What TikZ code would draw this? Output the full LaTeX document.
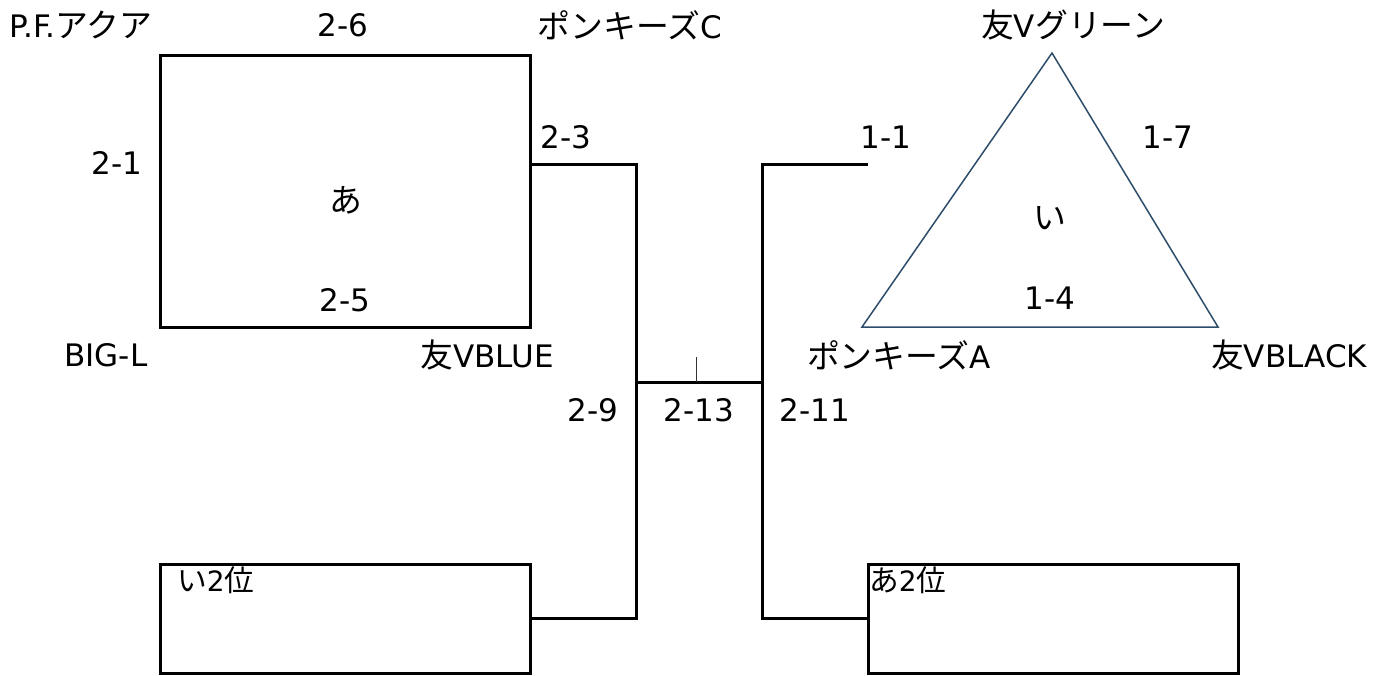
\documentclass[tikz,border=0pt]{standalone}
\usepackage{fontspec}
\setmainfont{DejaVu Sans}
\newfontfamily\jp[Scale=1.06]{Noto Sans CJK JP}
\begin{document}
\begin{tikzpicture}[x=1pt,y=-1pt,
  lbl/.style={inner sep=0pt,font=\fontsize{31}{34}\selectfont},
  box/.style={draw=black,line width=3pt,inner sep=0pt},
  conn/.style={draw=black,line width=3pt},
  tri/.style={draw={rgb,255:red,46;green,77;blue,107},line width=1.5pt,line join=miter}]
\useasboundingbox[fill=white] (0,0) rectangle (1382,675);
% boxes
\node[box,minimum width=370pt,minimum height=272pt] (A) at (345,191) {};
\node[box,minimum width=370pt,minimum height=109pt] (B) at (345,618.5) {};
\node[box,minimum width=370pt,minimum height=109pt] (C) at (1053,618.5) {};
% triangle
\coordinate (t1) at (1052,53);
\coordinate (t2) at (862,327);
\coordinate (t3) at (1218,327);
\draw[tri] (t1) -- (t2) -- (t3) -- cycle;
% connectors
\coordinate (ja) at (636,164);
\coordinate (jb) at (762,164);
\coordinate (ra) at (868,164);
\coordinate (ma) at (636,382);
\coordinate (mb) at (762,382);
\coordinate (tk) at (696,357);
\draw[conn,line join=miter] (A.east |- ja) -- (ja) -- (ja |- B.east) -- (B.east);
\draw[conn,line join=miter] (ra) -- (jb) -- (jb |- C.west) -- (C.west);
\draw[conn] (ma) -- (mb);
\draw[line width=0.8pt,black!80] (tk) -- (tk |- ma);
% labels
\node[lbl] (l1) at (81,25) {P.F.{\jp アクア}};
\node[lbl] (l2) at (343,25) {2-6};
\node[lbl] (l3) at (630,25) {{\jp ポンキーズ}C};
\node[lbl] (l4) at (117,163) {2-1};
\node[lbl] (l5) at (346,200) {\jp あ};
\node[lbl] (l6) at (345,300) {2-5};
\node[lbl] (l7) at (566,137) {2-3};
\node[lbl] (l8) at (106,355) {BIG-L};
\node[lbl] (l9) at (487,355) {{\jp 友}VBLUE};
\node[lbl] (l10) at (593,410) {2-9};
\node[lbl] (l11) at (699,410) {2-13};
\node[lbl] (l12) at (815,410) {2-11};
\node[lbl] (l13) at (1073,25) {{\jp 友}V{\jp グリーン}};
\node[lbl] (l14) at (886,137) {1-1};
\node[lbl] (l15) at (1168,137) {1-7};
\node[lbl] (l16) at (1050,218) {\jp い};
\node[lbl] (l17) at (1050,298) {1-4};
\node[lbl] (l18) at (899,355) {{\jp ポンキーズ}A};
\node[lbl] (l19) at (1289,355) {{\jp 友}VBLACK};
\node[lbl,anchor=north west,font=\fontsize{28}{30}\selectfont] (l20) at (177,566) {{\jp い}2{\jp 位}};
\node[lbl,anchor=north west,font=\fontsize{28}{30}\selectfont] (l21) at (869,566) {{\jp あ}2{\jp 位}};
\end{tikzpicture}
\end{document}
